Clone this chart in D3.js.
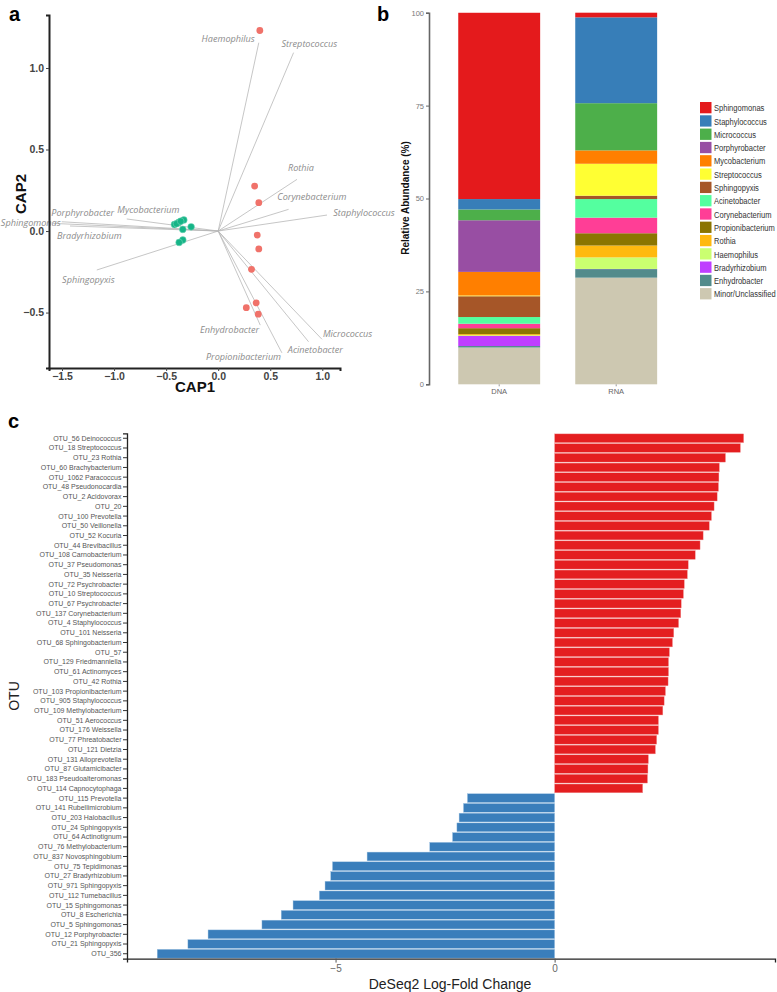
<!DOCTYPE html>
<html><head><meta charset="utf-8">
<script src="https://cdn.jsdelivr.net/npm/d3@7"></script>
<style>body{margin:0;background:#fff}svg{display:block}</style>
</head><body>
<svg id="fig" width="777" height="992"></svg>
<script>
// ---------- Panel a data ----------
const capRed1 = [0.40, 0.35, 0.39, 0.375, 0.39, 0.32, 0.365, 0.27, 0.385];
const capRed2 = [1.23, 0.276, 0.174, -0.025, -0.11, -0.235, -0.44, -0.47, -0.51];
const capGreen1 = [-0.42, -0.38, -0.33, -0.26, -0.34, -0.34, -0.375, -0.40, -0.36];
const capGreen2 = [0.04, 0.053, 0.068, 0.026, 0.01, -0.055, -0.07, 0.045, 0.06];
const vecNames = ["Haemophilus","Streptococcus","Rothia","Corynebacterium","Staphylococcus","Micrococcus","Acinetobacter","Propionibacterium","Enhydrobacter","Sphingopyxis","Bradyrhizobium","Sphingomonas","Porphyrobacter","Mycobacterium"];
const vecX = [0.39, 0.724, 0.757, 0.676, 1.045, 0.997, 0.868, 0.612, 0.404, -1.166, -1.423, -1.584, -1.503, -0.878];
const vecY = [1.155, 1.094, 0.317, 0.133, 0.098, -0.664, -0.679, -0.747, -0.577, -0.239, 0.031, 0.047, 0.057, 0.074];
// repelled label anchors (data units, text centre)
const vecLabX = [0.096, 0.875, 0.795, 0.90, 1.40, 1.243, 0.933, 0.243, 0.109, -1.247, -1.238, -1.800, -1.301, -0.670];
const vecLabY = [1.178, 1.147, 0.388, 0.207, 0.112, -0.630, -0.726, -0.773, -0.603, -0.301, -0.031, 0.053, 0.109, 0.133];
const capXTicks = [-1.5, -1.0, -0.5, 0.0, 0.5, 1.0];
const capYTicks = [-0.5, 0.0, 0.5, 1.0];

// ---------- Panel b data ----------
const genera = ["Sphingomonas","Staphylococcus","Micrococcus","Porphyrobacter","Mycobacterium","Streptococcus","Sphingopyxis","Acinetobacter","Corynebacterium","Propionibacterium","Rothia","Haemophilus","Bradyrhizobium","Enhydrobacter","Minor/Unclassified"];
const generaColors = ["#E41A1C","#377EB8","#4DAF4A","#984EA3","#FF7F00","#FFFF33","#A65628","#54FF9F","#FF3E96","#8B7500","#FFB90F","#CAFF70","#BF3EFF","#528B8B","#CDC8B1"];
const samples = ["DNA","RNA"];
const dnaAbund = [50.13, 2.8, 2.9, 13.9, 6.35, 0.2, 5.6, 1.8, 1.2, 1.6, 0.3, 0.2, 2.7, 0.4, 9.9];
const rnaAbund = [1.25, 23.1, 12.7, 0.0, 3.6, 8.6, 0.9, 5.0, 4.2, 3.3, 3.2, 3.1, 0.05, 2.3, 28.7];
const abundTicks = [0, 25, 50, 75, 100];

// ---------- Panel c data ----------
const otus = ["OTU_56 Deinococcus","OTU_18 Streptococcus","OTU_23 Rothia","OTU_60 Brachybacterium","OTU_1062 Paracoccus","OTU_48 Pseudonocardia","OTU_2 Acidovorax","OTU_20","OTU_100 Prevotella","OTU_50 Veillonella","OTU_52 Kocuria","OTU_44 Brevibacillus","OTU_108 Carnobacterium","OTU_37 Pseudomonas","OTU_35 Neisseria","OTU_72 Psychrobacter","OTU_10 Streptococcus","OTU_67 Psychrobacter","OTU_137 Corynebacterium","OTU_4 Staphylococcus","OTU_101 Neisseria","OTU_68 Sphingobacterium","OTU_57","OTU_129 Friedmanniella","OTU_61 Actinomyces","OTU_42 Rothia","OTU_103 Propionibacterium","OTU_905 Staphylococcus","OTU_109 Methylobacterium","OTU_51 Aerococcus","OTU_176 Weissella","OTU_77 Phreatobacter","OTU_121 Dietzia","OTU_131 Alloprevotella","OTU_87 Glutamicibacter","OTU_183 Pseudoalteromonas","OTU_114 Capnocytophaga","OTU_115 Prevotella","OTU_141 Rubellimicrobium","OTU_203 Halobacillus","OTU_24 Sphingopyxis","OTU_64 Actinotignum","OTU_76 Methylobacterium","OTU_837 Novosphingobium","OTU_75 Tepidimonas","OTU_27 Bradyrhizobium","OTU_971 Sphingopyxis","OTU_112 Tumebacillus","OTU_15 Sphingomonas","OTU_8 Escherichia","OTU_5 Sphingomonas","OTU_12 Porphyrobacter","OTU_21 Sphingopyxis","OTU_356"];
const logFC = [4.315, 4.24, 3.90, 3.76, 3.75, 3.74, 3.71, 3.64, 3.58, 3.53, 3.39, 3.32, 3.21, 3.05, 3.03, 2.96, 2.94, 2.89, 2.88, 2.83, 2.72, 2.69, 2.62, 2.60, 2.60, 2.59, 2.53, 2.50, 2.47, 2.37, 2.37, 2.33, 2.30, 2.14, 2.13, 2.12, 2.01,
  -1.99, -2.08, -2.18, -2.23, -2.33, -2.85, -4.28, -5.07, -5.11, -5.24, -5.37, -5.97, -6.24, -6.68, -7.91, -8.37, -9.07];
const fcTicks = [-5, 0];

const svg = d3.select("#fig");
const SANS = "'Liberation Sans', Arial, sans-serif";

// ================= Panel a =================
const xA = d3.scaleLinear().domain([-1.625, 1.17]).range([49, 340]);
const yA = d3.scaleLinear().domain([-0.84, 1.325]).range([368, 15]);
const gA = svg.append("g");
vecNames.forEach((n, i) => {
  gA.append("line").attr("x1", xA(0)).attr("y1", yA(0)).attr("x2", xA(vecX[i])).attr("y2", yA(vecY[i]))
    .attr("stroke", "#b8b8b8").attr("stroke-width", 0.8);
});
capRed1.forEach((v, i) => gA.append("circle").attr("cx", xA(v)).attr("cy", yA(capRed2[i])).attr("r", 3.4).attr("fill", "#F0726A"));
capGreen1.forEach((v, i) => gA.append("circle").attr("cx", xA(v)).attr("cy", yA(capGreen2[i])).attr("r", 3.4).attr("fill", "#16B487").attr("stroke","#7fd9bd").attr("stroke-width",0.5));
vecNames.forEach((n, i) => {
  gA.append("text").attr("x", xA(vecLabX[i])).attr("y", yA(vecLabY[i])).attr("dy", "0.35em")
    .attr("text-anchor", "middle").attr("font-family", "'Open Sans', sans-serif").attr("font-style", "italic")
    .attr("font-size", 9.1).attr("fill", "#8c8c8c").text(n);
});
const axAx = gA.append("g").attr("transform", "translate(0,368)")
  .call(d3.axisBottom(xA).tickValues(capXTicks).tickFormat(d3.format(".1f")).tickSize(3).tickPadding(2));
const axAy = gA.append("g").attr("transform", "translate(49,0)")
  .call(d3.axisLeft(yA).tickValues(capYTicks).tickFormat(d3.format(".1f")).tickSize(3).tickPadding(2));
[axAx, axAy].forEach(a => {
  a.select(".domain").attr("stroke", "#222").attr("stroke-width", 2);
  a.selectAll(".tick line").attr("stroke", "#444");
  a.selectAll("text").attr("font-family", SANS).attr("font-weight", "bold").attr("font-size", 10.5).attr("fill", "#444");
});
gA.append("text").attr("x", 195).attr("y", 392).attr("text-anchor", "middle").attr("font-family", SANS)
  .attr("font-weight", "bold").attr("font-size", 15).attr("fill", "#111").text("CAP1");
gA.append("text").attr("transform", "translate(26,194) rotate(-90)").attr("text-anchor", "middle").attr("font-family", SANS)
  .attr("font-weight", "bold").attr("font-size", 15).attr("fill", "#111").text("CAP2");

// ================= Panel b =================
const xB = d3.scaleBand().domain(samples).range([429, 686.4]).paddingInner(0.3).paddingOuter(0.25);
const yB = d3.scaleLinear().domain([0, 100]).range([384.3, 12.7]);
const gB = svg.append("g");
const stackRows = samples.map((s, k) => {
  const row = { sample: s };
  genera.forEach((g, i) => row[g] = (k === 0 ? dnaAbund : rnaAbund)[i]);
  return row;
});
const stack = d3.stack().keys(genera.slice().reverse())(stackRows);
stack.forEach(layer => {
  const ci = genera.indexOf(layer.key);
  gB.selectAll(null).data(layer).enter().append("rect")
    .attr("x", d => xB(d.data.sample)).attr("width", xB.bandwidth())
    .attr("y", d => yB(d[1])).attr("height", d => Math.max(0, yB(d[0]) - yB(d[1])))
    .attr("fill", generaColors[ci]);
});
const axBy = gB.append("g").attr("transform", "translate(429,0)")
  .call(d3.axisLeft(yB).tickValues(abundTicks).tickSize(3).tickPadding(2));
axBy.select(".domain").attr("stroke", "#666").attr("stroke-width", 1.6);
axBy.selectAll(".tick line").attr("stroke", "#666");
axBy.selectAll("text").attr("font-family", SANS).attr("font-size", 7.5).attr("fill", "#777");
const axBx = gB.append("g").attr("transform", "translate(0,384.3)")
  .call(d3.axisBottom(xB).tickSize(2).tickPadding(2));
axBx.select(".domain").remove();
axBx.selectAll(".tick line").attr("stroke", "#999");
axBx.selectAll("text").attr("font-family", SANS).attr("font-size", 7.5).attr("fill", "#666");
gB.append("text").attr("transform", "translate(409,198) rotate(-90)").attr("text-anchor", "middle")
  .attr("font-family", SANS).attr("font-weight", "bold").attr("font-size", 10).attr("fill", "#111").text("Relative Abundance (%)");
// legend
const legY = d3.scaleBand().domain(genera).range([101, 300.4]);
genera.forEach((g, i) => {
  gB.append("rect").attr("x", 700).attr("y", legY(g) + 1).attr("width", 11.5).attr("height", 11.3).attr("fill", generaColors[i]);
  gB.append("text").attr("transform", `translate(714,${legY(g) + legY.bandwidth() / 2 + 0.5}) scale(0.84,1)`).attr("dy", "0.35em")
    .attr("font-family", SANS).attr("font-size", 9).attr("fill", "#333").text(g);
});

// ================= Panel c =================
const xC = d3.scaleLinear().domain([-9.76, 5.03]).range([127, 775]);
const yC = d3.scaleBand().domain(otus).range([433.4, 958.6]).paddingInner(0.1).paddingOuter(0.05);
const gC = svg.append("g");
gC.selectAll("rect").data(otus).enter().append("rect")
  .attr("x", (d, i) => xC(Math.min(0, logFC[i])))
  .attr("width", (d, i) => Math.abs(xC(logFC[i]) - xC(0)))
  .attr("y", d => yC(d)).attr("height", yC.bandwidth())
  .attr("fill", (d, i) => logFC[i] > 0 ? "#E41E20" : "#3A7EBB")
  .attr("stroke", (d, i) => logFC[i] > 0 ? "#f29a9a" : "#9cc0e0").attr("stroke-width", 0.4);
const axCy = gC.append("g").attr("transform", "translate(127,0)")
  .call(d3.axisLeft(yC).tickSize(4).tickPadding(2));
axCy.select(".domain").attr("stroke", "#222").attr("stroke-width", 1.3);
axCy.selectAll(".tick line").attr("stroke", "#333");
axCy.selectAll("text").attr("font-family", SANS).attr("font-size", 7.6).attr("fill", "#555")
  .attr("transform", "scale(0.92,1)");
const axCx = gC.append("g").attr("transform", "translate(0,958.6)")
  .call(d3.axisBottom(xC).tickValues(fcTicks).tickSize(4).tickPadding(2));
axCx.select(".domain").attr("stroke", "#222").attr("stroke-width", 1.3);
axCx.selectAll(".tick line").attr("stroke", "#555");
axCx.selectAll("text").attr("font-family", SANS).attr("font-size", 10).attr("fill", "#666");
gC.append("text").attr("x", 450).attr("y", 989).attr("text-anchor", "middle").attr("font-family", SANS)
  .attr("font-size", 14).attr("fill", "#222").text("DeSeq2 Log-Fold Change");
gC.append("text").attr("transform", "translate(19,696) rotate(-90)").attr("text-anchor", "middle").attr("font-family", SANS)
  .attr("font-size", 14).attr("fill", "#222").text("OTU");

[["a", 9, 21], ["b", 377, 21], ["c", 8, 428]].forEach(([t, x, y]) => {
  svg.append("text").attr("x", x).attr("y", y).attr("font-family", SANS).attr("font-weight", "bold")
    .attr("font-size", 20).attr("fill", "#000").text(t);
});
</script>
</body></html>
